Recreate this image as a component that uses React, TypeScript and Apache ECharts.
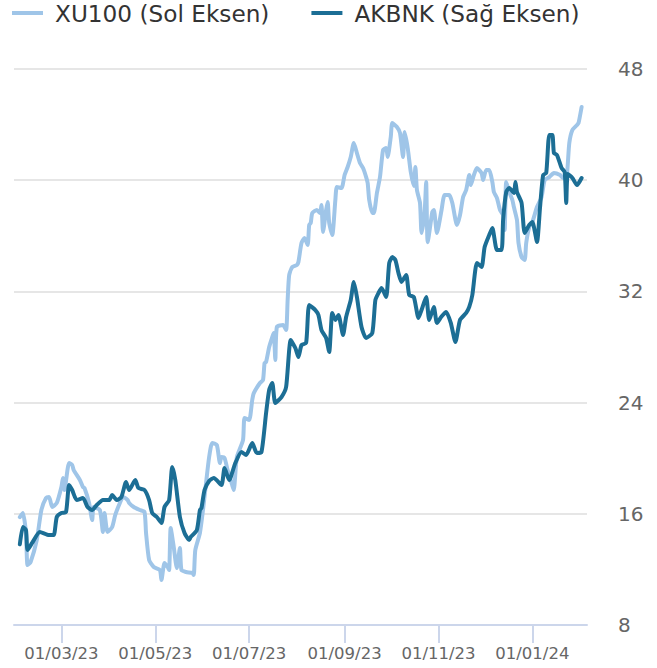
import React, { useEffect, useRef } from "react";
import * as echarts from "echarts";

const seriesNames = ["XU100 (Sol Eksen)", "AKBNK (Sağ Eksen)"];

const xu100Dates = [
  "2023-02-02","2023-02-04","2023-02-06","2023-02-07","2023-02-09","2023-02-13","2023-02-16","2023-02-19","2023-02-21","2023-02-23","2023-02-26",
  "2023-03-01","2023-03-02","2023-03-03","2023-03-06","2023-03-08","2023-03-09","2023-03-13","2023-03-15","2023-03-16","2023-03-19","2023-03-21","2023-03-22","2023-03-26","2023-03-28","2023-03-29","2023-03-31",
  "2023-04-03","2023-04-05","2023-04-08","2023-04-10","2023-04-13","2023-04-14","2023-04-17","2023-04-21","2023-04-24","2023-04-25","2023-04-27","2023-04-30",
  "2023-05-04","2023-05-05","2023-05-07","2023-05-09","2023-05-10","2023-05-11","2023-05-13","2023-05-15","2023-05-17","2023-05-18","2023-05-21","2023-05-25","2023-05-26","2023-05-27","2023-05-30",
  "2023-06-01","2023-06-03","2023-06-05","2023-06-07","2023-06-10","2023-06-12","2023-06-13","2023-06-15","2023-06-17","2023-06-20","2023-06-21","2023-06-23","2023-06-27","2023-06-28",
  "2023-07-01","2023-07-03","2023-07-04","2023-07-08","2023-07-10","2023-07-11","2023-07-12","2023-07-14","2023-07-16","2023-07-17","2023-07-18","2023-07-19","2023-07-23","2023-07-25","2023-07-26","2023-07-27","2023-07-29",
  "2023-08-01","2023-08-02","2023-08-04","2023-08-06","2023-08-08","2023-08-09","2023-08-10","2023-08-11","2023-08-14","2023-08-16","2023-08-17","2023-08-18","2023-08-20","2023-08-21","2023-08-22","2023-08-24","2023-08-26","2023-08-27","2023-08-30",
  "2023-09-01","2023-09-03","2023-09-05","2023-09-07","2023-09-09","2023-09-11","2023-09-13","2023-09-15","2023-09-16","2023-09-17","2023-09-19","2023-09-20","2023-09-22","2023-09-24","2023-09-26","2023-09-28","2023-09-29",
  "2023-10-01","2023-10-02","2023-10-05","2023-10-07","2023-10-09","2023-10-10","2023-10-12","2023-10-14","2023-10-16","2023-10-17","2023-10-18","2023-10-20","2023-10-21","2023-10-23","2023-10-24","2023-10-25","2023-10-28","2023-10-29","2023-10-31",
  "2023-11-03","2023-11-05","2023-11-08","2023-11-10","2023-11-13","2023-11-15","2023-11-17","2023-11-19","2023-11-21","2023-11-22","2023-11-24","2023-11-26","2023-11-29","2023-11-30",
  "2023-12-02","2023-12-04","2023-12-06","2023-12-07","2023-12-09","2023-12-11","2023-12-13","2023-12-14","2023-12-15","2023-12-17","2023-12-19","2023-12-20","2023-12-22","2023-12-23","2023-12-25","2023-12-27","2023-12-28","2023-12-30",
  "2024-01-01","2024-01-04","2024-01-07","2024-01-09","2024-01-12","2024-01-15","2024-01-19","2024-01-21","2024-01-23","2024-01-25","2024-01-27","2024-01-30","2024-01-31","2024-02-02"
];
const xu100Values = [
  5029,5068,4877,4572,4601,4810,5096,5211,5220,5125,5163,
  5315,5401,5287,5544,5525,5477,5382,5315,5306,5163,5001,5125,5096,4886,5068,4886,
  4934,5049,5163,5220,5192,5163,5125,5096,5077,4877,4620,4553,
  4524,4429,4591,4553,4524,4925,4743,4543,4734,4524,4505,4496,4477,4715,4877,
  5096,5354,5601,5735,5716,5544,5601,5592,5477,5334,5287,5601,5763,5973,
  5954,6145,6211,6307,6335,6497,6507,6650,6745,6783,6526,6841,6860,6812,7098,7336,7412,
  7432,7460,7641,7689,7622,7813,7832,7927,7956,7927,8003,7746,7956,8032,7832,7717,8051,8175,8165,
  8289,8366,8461,8594,8499,8404,8356,8270,8213,8051,7927,7927,8118,8270,8528,8547,8461,
  8652,8785,8747,8690,8461,8699,8547,8318,8185,8366,8147,8023,7737,7937,8223,7649,7937,7956,7737,
  7956,8099,8099,8023,7813,7908,8080,8146,8289,8194,8289,8356,8308,8242,
  8337,8337,8223,8127,8070,7956,7908,7765,8223,8127,8051,7984,7860,7641,7508,7479,7641,7794,
  7841,7984,8080,8242,8270,8308,8289,8261,8261,8594,8718,8766,8785,8938
];

const akbnkDates = [
  "2023-02-02","2023-02-04","2023-02-06","2023-02-07","2023-02-10","2023-02-15","2023-02-21","2023-02-24","2023-02-26",
  "2023-03-01","2023-03-04","2023-03-06","2023-03-08","2023-03-11","2023-03-15","2023-03-18","2023-03-21","2023-03-24","2023-03-28",
  "2023-04-01","2023-04-03","2023-04-06","2023-04-09","2023-04-12","2023-04-14","2023-04-18","2023-04-20","2023-04-24","2023-04-27","2023-04-29",
  "2023-05-02","2023-05-05","2023-05-07","2023-05-10","2023-05-12","2023-05-14","2023-05-17","2023-05-20","2023-05-23","2023-05-24","2023-05-28","2023-05-30","2023-05-31",
  "2023-06-02","2023-06-05","2023-06-08","2023-06-13","2023-06-15","2023-06-18","2023-06-22","2023-06-26","2023-06-29",
  "2023-07-03","2023-07-06","2023-07-09","2023-07-12","2023-07-14","2023-07-16","2023-07-18","2023-07-22","2023-07-25","2023-07-28","2023-07-31",
  "2023-08-02","2023-08-04","2023-08-07","2023-08-09","2023-08-13","2023-08-15","2023-08-17","2023-08-20","2023-08-22","2023-08-24","2023-08-26","2023-08-28","2023-08-31",
  "2023-09-02","2023-09-05","2023-09-07","2023-09-09","2023-09-12","2023-09-15","2023-09-19","2023-09-21","2023-09-23","2023-09-25","2023-09-28","2023-09-30",
  "2023-10-02","2023-10-04","2023-10-06","2023-10-08","2023-10-11","2023-10-13","2023-10-16","2023-10-19","2023-10-21","2023-10-24","2023-10-26","2023-10-29","2023-10-31",
  "2023-11-03","2023-11-06","2023-11-09","2023-11-12","2023-11-15","2023-11-19","2023-11-21","2023-11-23","2023-11-26","2023-11-29",
  "2023-12-01","2023-12-04","2023-12-06","2023-12-09","2023-12-12","2023-12-13","2023-12-15","2023-12-17","2023-12-20","2023-12-21","2023-12-22","2023-12-25","2023-12-27","2023-12-30",
  "2024-01-01","2024-01-04","2024-01-06","2024-01-08","2024-01-10","2024-01-12","2024-01-14","2024-01-15","2024-01-17","2024-01-20","2024-01-22","2024-01-23","2024-01-24","2024-01-27","2024-01-30","2024-02-02"
];
const akbnkValues = [
  13.8,15.05,14.83,13.4,13.9,14.69,14.47,14.47,15.77,
  16.06,16.13,18.07,17.71,16.99,17.14,16.49,16.27,16.63,16.99,
  16.99,17.35,16.99,17.21,18.29,17.71,18.43,17.86,17.71,16.99,16.06,
  15.77,15.34,16.49,16.99,19.37,18.43,15.77,14.62,14.12,14.33,14.83,16.27,16.42,
  17.71,18.36,18.58,18.07,19.29,18.43,19.65,20.45,20.23,
  21.09,20.37,20.45,23.25,24.91,25.41,23.97,24.4,25.12,28.5,27.93,
  27.28,28.14,28.29,31.02,30.66,30.3,29.22,28.65,27.64,30.45,29.94,30.3,28.86,
  30.16,31.38,32.68,31.6,29.44,28.65,29.01,31.38,31.88,32.24,31.6,34.04,
  34.47,34.26,33.32,32.68,33.18,31.74,31.6,30.09,30.66,31.6,29.94,30.88,29.73,
  30.2,30.52,29.73,28.36,29.94,30.45,30.88,31.74,34.04,33.76,
  35.19,36.06,36.56,34.98,34.98,37.14,39.15,39.44,39.08,39.87,39.15,38.36,36.2,36.78,
  36.99,35.55,38.07,40.37,40.52,43.25,43.25,41.96,41.81,40.88,40.59,38.36,40.45,40.16,39.65,40.16
];

const xTickDates = ["2023-03-01", "2023-05-01", "2023-07-01", "2023-09-01", "2023-11-01", "2024-01-01"];
const rightAxisMin = 8;
const rightAxisMax = 48;
const rightAxisInterval = 8;

function toTime(s: string): number {
  const [y, m, d] = s.split("-").map(Number);
  return new Date(y, m - 1, d).getTime();
}
function pad(n: number) {
  return n < 10 ? "0" + n : "" + n;
}

export default function App() {
  const ref = useRef<HTMLDivElement>(null);
  useEffect(() => {
    if (!ref.current) return;
    const chart = echarts.init(ref.current, null, { renderer: "svg" });
    const font = "DejaVu Sans";
    const tickTimes = xTickDates.map(toTime);
    const xMin = new Date(2023, 0, 29, 5).getTime();
    const xMax = new Date(2024, 1, 5, 12).getTime();
    chart.setOption({
      animation: false,
      backgroundColor: "#ffffff",
      textStyle: { fontFamily: font },
      legend: {
        left: 12,
        top: 0,
        padding: 0,
        icon: "rect",
        itemWidth: 31,
        itemHeight: 4,
        itemGap: 42,
        data: seriesNames,
        formatter: (name: string) => "{n|" + name + "}",
        textStyle: {
          fontFamily: font,
          fontSize: 23.2,
          color: "#333333",
          lineHeight: 26,
          rich: {
            n: {
              fontFamily: font,
              fontSize: 23.2,
              color: "#333333",
              lineHeight: 26,
              padding: [0, 0, 0, 7],
            },
          },
        },
      },
      grid: { left: 14, right: 70, top: 69, bottom: 43 },
      xAxis: {
        type: "value",
        min: xMin,
        max: xMax,
        axisLine: { show: true, lineStyle: { color: "#ccd6eb", width: 2 } },
        axisTick: {
          show: true,
          customValues: tickTimes,
          length: 18,
          lineStyle: { color: "#ccd6eb", width: 2 },
        },
        axisLabel: {
          customValues: tickTimes,
          fontFamily: font,
          fontSize: 16.5,
          color: "#666666",
          margin: 20,
          formatter: (v: number) => {
            const d = new Date(v);
            return pad(d.getDate()) + "/" + pad(d.getMonth() + 1) + "/" + pad(d.getFullYear() % 100);
          },
        },
        splitLine: { show: false },
      },
      yAxis: [
        {
          type: "value",
          show: false,
          min: 4000,
          max: 9300,
          splitLine: { show: false },
        },
        {
          type: "value",
          position: "right",
          min: rightAxisMin,
          max: rightAxisMax,
          interval: rightAxisInterval,
          axisLine: { show: false },
          axisTick: { show: false },
          axisLabel: { fontFamily: font, fontSize: 20, color: "#666666", margin: 31 },
          splitLine: { show: true, lineStyle: { color: "#e6e6e6", width: 2 } },
        },
      ],
      series: [
        {
          name: seriesNames[0],
          type: "line",
          yAxisIndex: 0,
          showSymbol: false,
          smooth: 0.2,
          color: "#9fc5e8",
          lineStyle: { width: 4, color: "#9fc5e8", cap: "round", join: "round" },
          data: xu100Dates.map((d, i) => [toTime(d), xu100Values[i]]),
        },
        {
          name: seriesNames[1],
          type: "line",
          yAxisIndex: 1,
          showSymbol: false,
          smooth: 0.2,
          color: "#1c6e95",
          lineStyle: { width: 4, color: "#1c6e95", cap: "round", join: "round" },
          data: akbnkDates.map((d, i) => [toTime(d), akbnkValues[i]]),
        },
      ],
    });
    return () => chart.dispose();
  }, []);
  return (
    <div
      ref={ref}
      style={{ position: "fixed", left: 0, top: 0, width: 657, height: 668 }}
    />
  );
}
